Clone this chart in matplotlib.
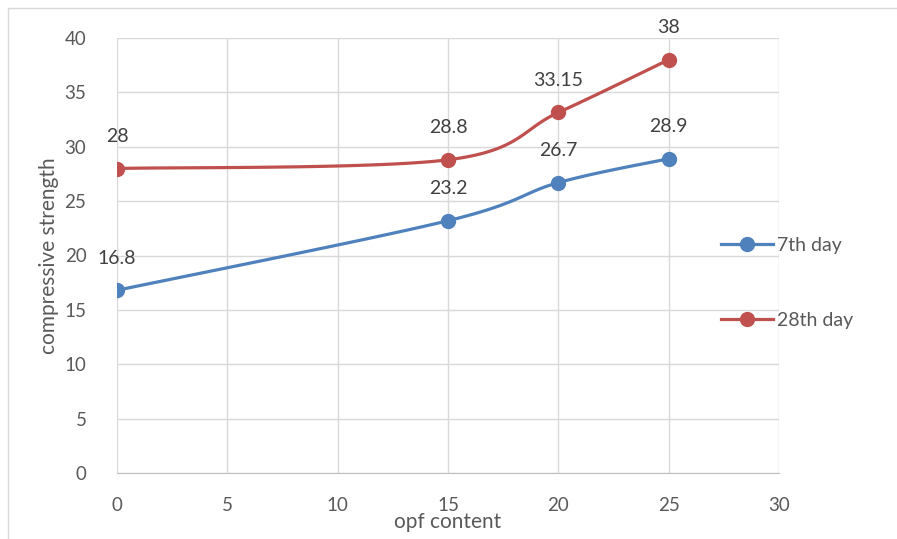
import numpy as np
import matplotlib.pyplot as plt
from matplotlib.patches import Rectangle

plt.rcParams['font.family'] = ['Lato', 'DejaVu Sans']

# data
opf = [0, 15, 20, 25]
day7 = [16.8, 23.2, 26.7, 28.9]
day28 = [28, 28.8, 33.15, 38]
labels7 = ['16.8', '23.2', '26.7', '28.9']
labels28 = ['28', '28.8', '33.15', '38']
blue = '#4F81BD'
red = '#C0504D'
grey_txt = '#595959'

fig = plt.figure(figsize=(8.97, 5.39), dpi=100)
fig.patches.append(Rectangle((8 / 897, -0.1), 1.1, 1 - 8 / 539 + 0.1,
                             transform=fig.transFigure, fill=False,
                             edgecolor='#d9d9d9', linewidth=1))
ax = fig.add_axes([117 / 897, 66 / 539, 662 / 897, 435 / 539])


def smooth(xs, ys, sx=662 / 30, sy=435 / 40, n=40):
    # Excel-like smoothed line (bezier through points, in screen scale)
    p = np.column_stack([np.array(xs) * sx, np.array(ys) * sy])
    out = []
    for i in range(len(p) - 1):
        p0 = p[i - 1] if i > 0 else p[i]
        p1, p2 = p[i], p[i + 1]
        p3 = p[i + 2] if i + 2 < len(p) else p[i + 1]
        c1 = p1 + (p2 - p0) / 6
        c2 = p2 - (p3 - p1) / 6
        t = np.linspace(0, 1, n)[:, None]
        seg = ((1 - t) ** 3 * p1 + 3 * (1 - t) ** 2 * t * c1
               + 3 * (1 - t) * t ** 2 * c2 + t ** 3 * p2)
        out.append(seg)
    c = np.vstack(out)
    return c[:, 0] / sx, c[:, 1] / sy


for ys, labs, col, name in [(day7, labels7, blue, '7th day'),
                            (day28, labels28, red, '28th day')]:
    cx, cy = smooth(opf, ys)
    ax.plot(cx, cy, color=col, linewidth=2.3, solid_capstyle='round', zorder=3)
    ax.plot(opf, ys, 'o', color=col, markersize=10, zorder=4)
    ax.plot([], [], '-o', color=col, linewidth=2.3, markersize=10, label=name)
    for x, y, s in zip(opf, ys, labs):
        ax.annotate(s, (x, y), xytext=(0, 23), textcoords='offset points',
                    ha='center', va='center', fontsize=14, color='#404040')

ax.set_xlim(0, 30)
ax.set_ylim(0, 40)
ax.set_xticks(range(0, 31, 5))
ax.set_yticks(range(0, 41, 5))
ax.grid(True, color='#d9d9d9', linewidth=1)
ax.set_axisbelow(True)
for s in ['top', 'right', 'left']:
    ax.spines[s].set_visible(False)
ax.spines['bottom'].set_color('#bfbfbf')
ax.tick_params(length=0, labelsize=13.5, colors=grey_txt)
ax.tick_params(axis='x', pad=17)
ax.tick_params(axis='y', pad=22)
ax.set_xlabel('opf content', fontsize=15, color=grey_txt, labelpad=-1)
ax.set_ylabel('compressive strength', fontsize=15, color=grey_txt, labelpad=4)

leg = ax.legend(loc='center left', bbox_to_anchor=(0.912, 0.437),
                frameon=False, fontsize=14, labelcolor=grey_txt,
                borderpad=0, borderaxespad=0,
                handlelength=2.7, handletextpad=0.2, labelspacing=3.0)

fig.savefig('out.png', dpi=100)
